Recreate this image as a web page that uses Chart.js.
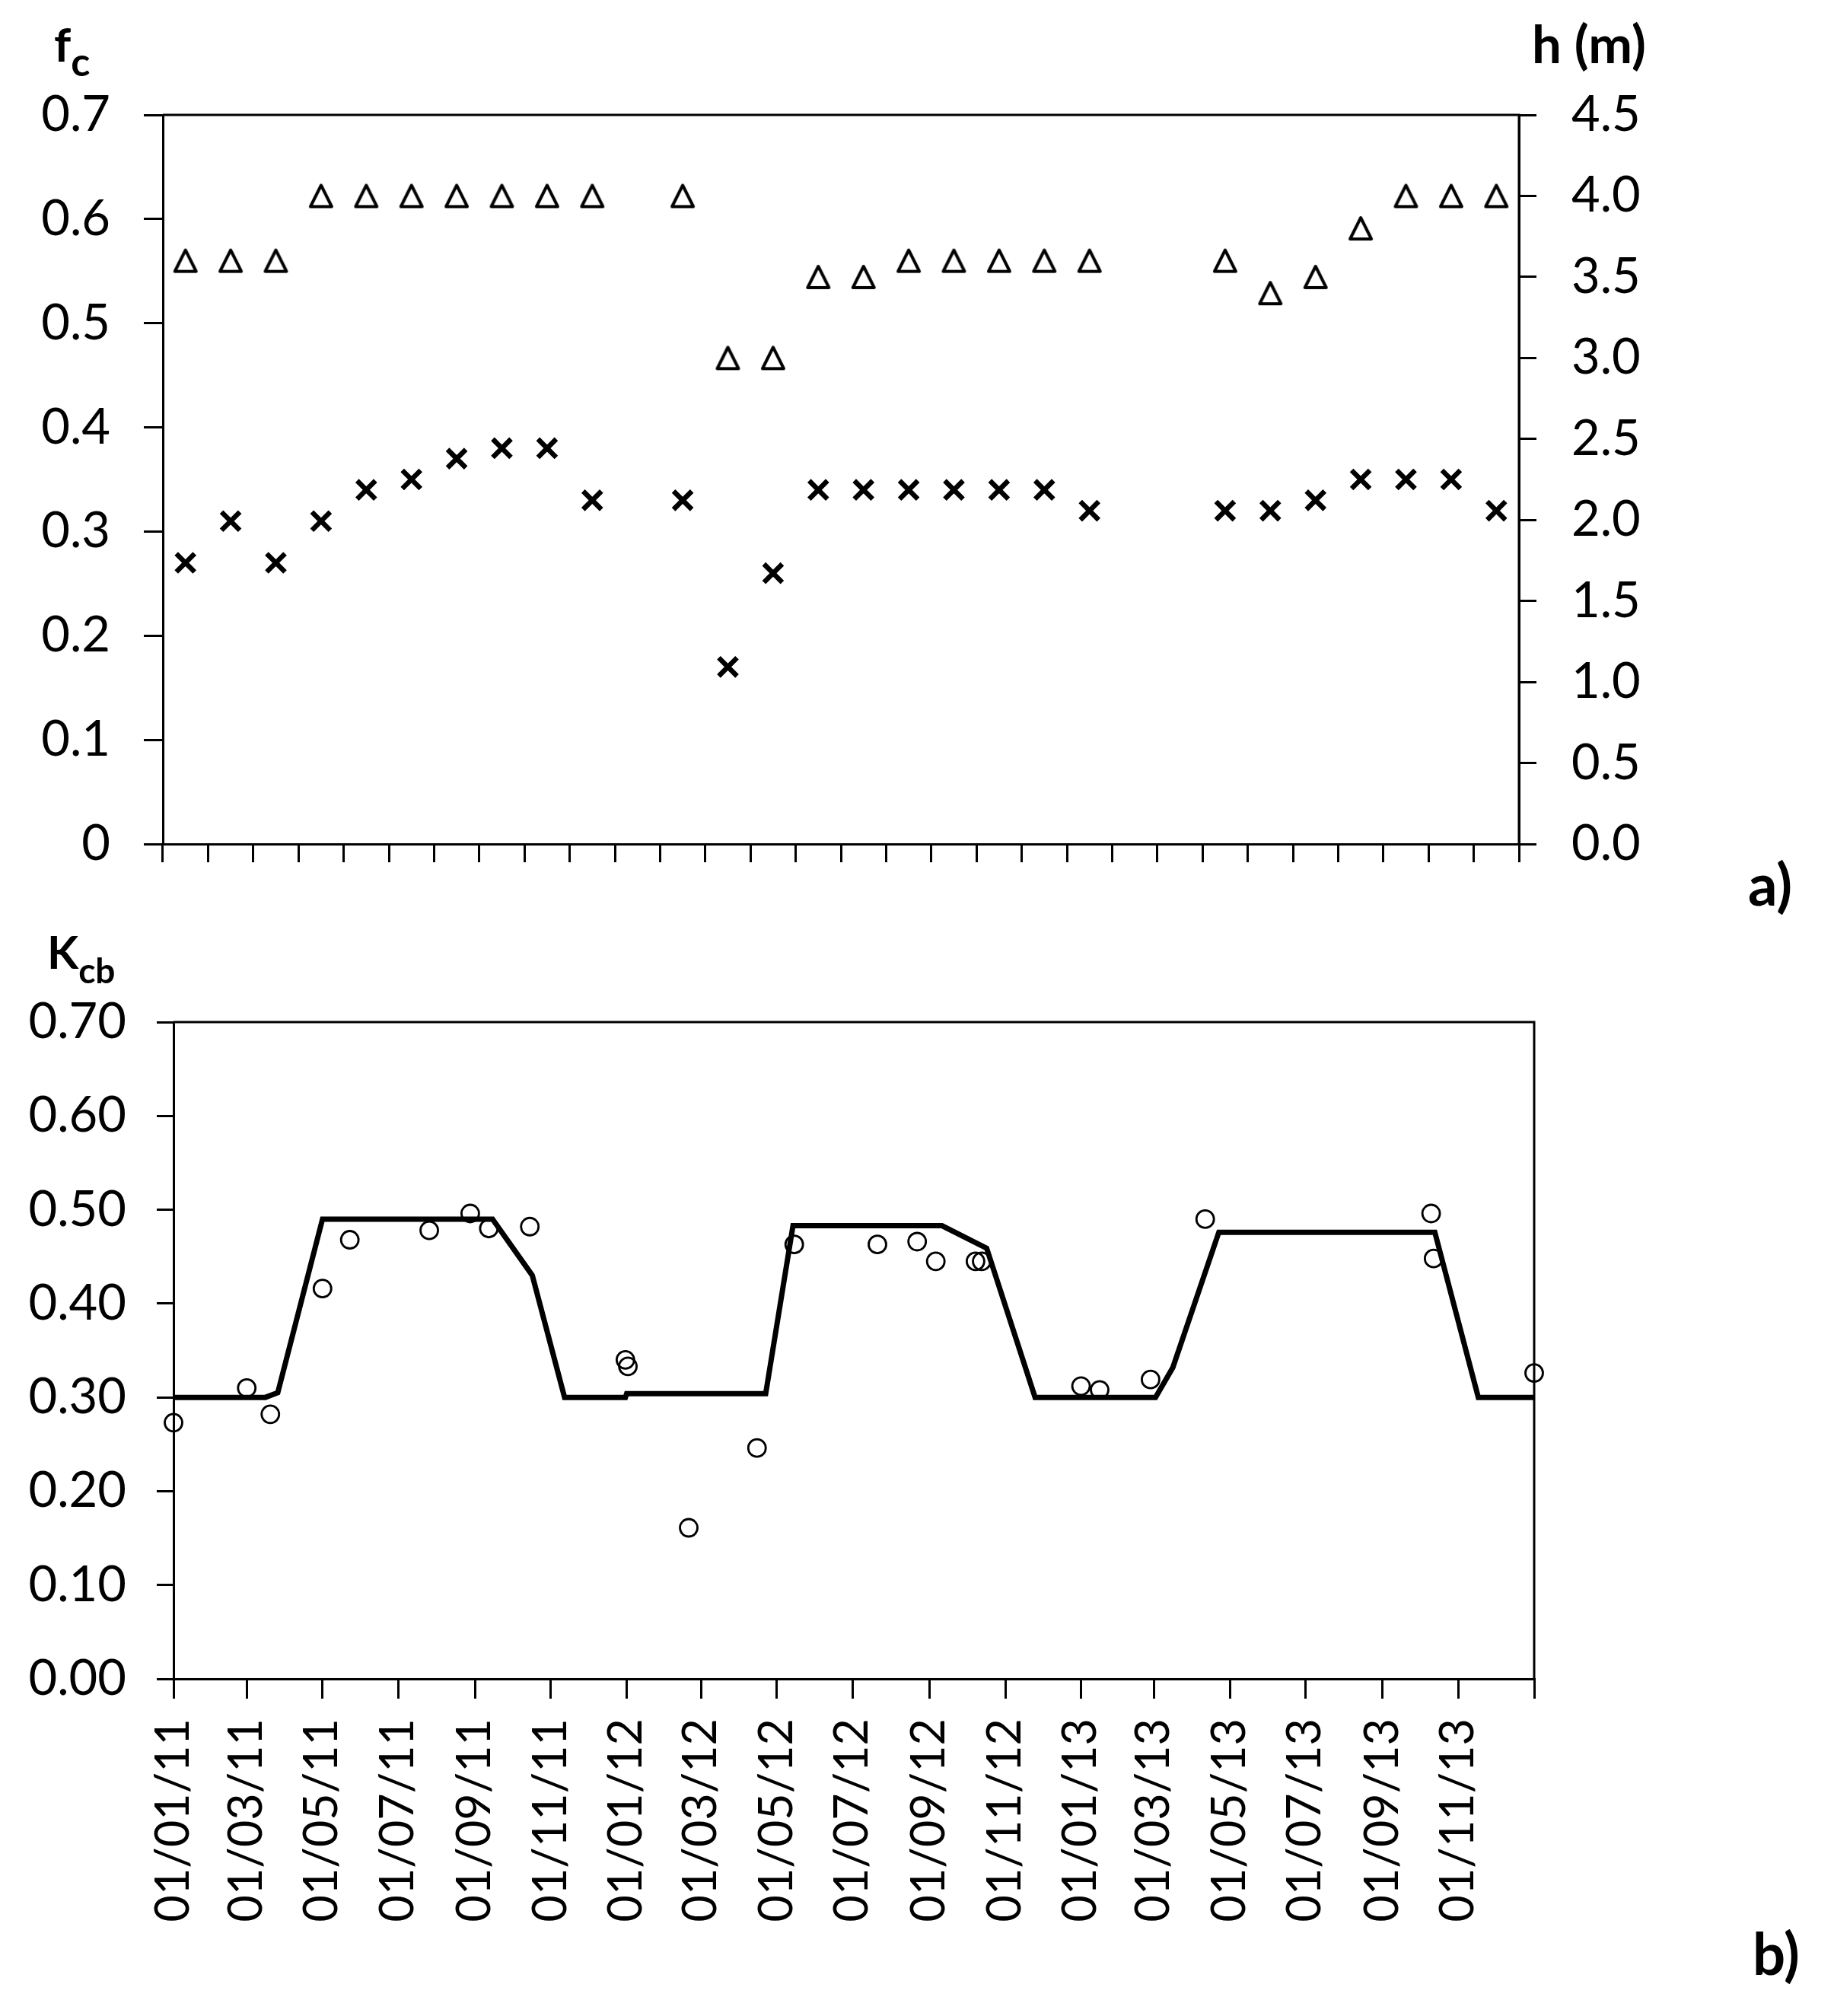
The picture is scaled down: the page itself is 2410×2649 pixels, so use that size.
<!DOCTYPE html>
<html>
<head>
<meta charset="utf-8">
<script src="https://cdn.jsdelivr.net/npm/chart.js@4.4.1/dist/chart.umd.min.js"></script>
<style>
  html, body { margin: 0; padding: 0; background: #ffffff; }
  body { width: 2410px; height: 2649px; position: relative; overflow: hidden; font-family: Lato, "Open Sans", sans-serif; }
  canvas { position: absolute; left: 0; }
  .t { position: absolute; font-weight: bold; color: #000; line-height: 1; white-space: nowrap; font-family: Lato, "Open Sans", sans-serif; }
  .s { font-weight: bold; }
</style>
</head>
<body>
<canvas id="chartA" width="2410" height="1200" style="top:0px"></canvas>
<canvas id="chartB" width="2410" height="1449" style="top:1200px"></canvas>

<div class="t" style="left:71px; top:26px; font-size:62px;">f<span class="s" style="font-size:52px; vertical-align:-19px;">c</span></div>
<div class="t" style="left:2013px; top:22px; font-size:69px;">h (m)</div>
<div class="t" style="left:2297px; top:1123px; font-size:76px;">a)</div>
<div class="t" style="left:62px; top:1220px; font-size:60px;">K<span class="s" style="font-size:46px; vertical-align:-19px;">cb</span></div>
<div class="t" style="left:2303px; top:2528px; font-size:76px;">b)</div>

<script>
// ---------- DATA ----------
// Panel a): 30 measurement periods (category axis, no labels)
const periods = ['1','2','3','4','5','6','7','8','9','10','11','12','13','14','15','16','17','18','19','20','21','22','23','24','25','26','27','28','29','30'];
// fraction of ground cover fc (crosses, left axis)
const fcValues = [0.27, 0.31, 0.27, 0.31, 0.34, 0.35, 0.37, 0.38, 0.38, 0.33, null, 0.33, 0.17, 0.26, 0.34, 0.34, 0.34, 0.34, 0.34, 0.34, 0.32, null, null, 0.32, 0.32, 0.33, 0.35, 0.35, 0.35, 0.32];
// tree height h in m (triangles, right axis)
const hValues = [3.6, 3.6, 3.6, 4.0, 4.0, 4.0, 4.0, 4.0, 4.0, 4.0, null, 4.0, 3.0, 3.0, 3.5, 3.5, 3.6, 3.6, 3.6, 3.6, 3.6, null, null, 3.6, 3.4, 3.5, 3.8, 4.0, 4.0, 4.0];

// Panel b): modelled Kcb (line)
const kcbLineDates = ['2011-01-01', '2011-03-16', '2011-03-26', '2011-05-01', '2011-09-15', '2011-10-17', '2011-11-12', '2011-12-31',
                      '2012-01-01', '2012-04-22', '2012-05-14', '2012-09-11', '2012-10-17', '2012-11-25',
                      '2013-03-02', '2013-03-16', '2013-04-22', '2013-10-13', '2013-11-17', '2014-01-01'];
const kcbLineValues = [0.30, 0.30, 0.305, 0.49, 0.49, 0.43, 0.30, 0.30,
                       0.304, 0.304, 0.483, 0.483, 0.459, 0.30,
                       0.30, 0.332, 0.476, 0.476, 0.30, 0.30];
// observed Kcb (circles)
const kcbObsDates = ['2011-01-01', '2011-03-01', '2011-03-20', '2011-05-01', '2011-05-23', '2011-07-26', '2011-08-28', '2011-09-12', '2011-10-15',
                     '2011-12-31', '2012-01-02', '2012-02-20', '2012-04-15', '2012-05-15', '2012-07-21', '2012-08-22', '2012-09-06', '2012-10-08', '2012-10-13',
                     '2013-01-01', '2013-01-16', '2013-02-26', '2013-04-11', '2013-10-10', '2013-10-12', '2014-01-01'];
const kcbObsValues = [0.273, 0.310, 0.282, 0.416, 0.468, 0.478, 0.496, 0.480, 0.482,
                      0.340, 0.333, 0.161, 0.246, 0.463, 0.463, 0.466, 0.445, 0.445, 0.445,
                      0.312, 0.308, 0.319, 0.490, 0.496, 0.448, 0.326];
// date axis
const dateTickLabels = ['01/01/11', '01/03/11', '01/05/11', '01/07/11', '01/09/11', '01/11/11',
                        '01/01/12', '01/03/12', '01/05/12', '01/07/12', '01/09/12', '01/11/12',
                        '01/01/13', '01/03/13', '01/05/13', '01/07/13', '01/09/13', '01/11/13'];
const dateAxisStart = '2011-01-01';
const dateAxisEnd = '2014-01-01';

// ---------- HELPERS ----------
const DAY = 86400000;
const t0 = Date.parse(dateAxisStart + 'T00:00:00Z');
const isoToDay = s => (Date.parse(s + 'T00:00:00Z') - t0) / DAY;
const labelToDay = s => { const p = s.split('/'); return isoToDay('20' + p[2] + '-' + p[1] + '-' + p[0]); };
const tickDays = dateTickLabels.map(labelToDay).concat([isoToDay(dateAxisEnd)]);

Chart.defaults.color = '#000';
Chart.defaults.font.family = 'Lato, "Open Sans", sans-serif';

function makeTriangle() {
  const c = document.createElement('canvas');
  c.width = 36; c.height = 36;
  const g = c.getContext('2d');
  g.lineWidth = 4; g.lineJoin = 'round'; g.strokeStyle = '#000';
  g.beginPath(); g.moveTo(18, 4); g.lineTo(32, 32); g.lineTo(4, 32); g.closePath(); g.stroke();
  return c;
}

const frame = {
  id: 'frame',
  afterDraw(chart) {
    const a = chart.chartArea, ctx = chart.ctx;
    ctx.save();
    ctx.strokeStyle = '#000'; ctx.lineWidth = 3;
    ctx.beginPath();
    ctx.moveTo(a.left, a.top); ctx.lineTo(a.right, a.top); ctx.lineTo(a.right, a.bottom);
    ctx.stroke();
    ctx.restore();
  }
};

const tickFont = { family: 'Lato, "Open Sans", sans-serif', size: 65 };
const axisLine = { display: true, color: '#000', width: 3 };

// ---------- PANEL A ----------
new Chart(document.getElementById('chartA'), {
  type: 'line',
  data: {
    labels: periods,
    datasets: [
      { label: 'h (m)', data: hValues, yAxisID: 'y1', showLine: false,
        pointStyle: makeTriangle(), pointRadius: 16, borderColor: '#000', backgroundColor: '#000' },
      { label: 'fc', data: fcValues, yAxisID: 'y', showLine: false,
        pointStyle: 'crossRot', pointRadius: 17, borderWidth: 6.5, borderColor: '#000', backgroundColor: '#000' }
    ]
  },
  options: {
    responsive: false, animation: false, devicePixelRatio: 1,
    layout: { padding: { top: 151, left: 0, right: 214, bottom: 0 } },
    plugins: { legend: { display: false }, tooltip: { enabled: false } },
    scales: {
      x: { type: 'category', offset: true,
           grid: { offset: true, drawOnChartArea: false, drawTicks: true, tickLength: 24, color: '#000', lineWidth: 3 },
           border: axisLine, ticks: { display: false },
           afterFit: s => { s.height = 91; } },
      y: { position: 'left', min: 0, max: 0.7,
           ticks: { stepSize: 0.1, padding: 44, font: tickFont, color: '#000', callback: v => v === 0 ? '0' : v.toFixed(1) },
           grid: { drawOnChartArea: false, drawTicks: true, tickLength: 25, color: '#000', lineWidth: 3 },
           border: axisLine, afterFit: s => { s.width = 214; } },
      y1: { position: 'right', min: 0, max: 4.5,
           ticks: { stepSize: 0.5, padding: 46, font: tickFont, color: '#000', callback: v => v.toFixed(1) },
           grid: { drawOnChartArea: false, drawTicks: true, tickLength: 23, color: '#000', lineWidth: 3 },
           border: axisLine, afterFit: s => { s.width = 200; } }
    }
  },
  plugins: [frame]
});

// ---------- PANEL B ----------
new Chart(document.getElementById('chartB'), {
  type: 'scatter',
  data: {
    datasets: [
      { label: 'Kcb model', data: kcbLineDates.map((d, i) => ({ x: isoToDay(d), y: kcbLineValues[i] })),
        showLine: true, borderColor: '#000', borderWidth: 7, pointRadius: 0, pointHoverRadius: 0, tension: 0, fill: false, order: 2 },
      { label: 'Kcb observed', data: kcbObsDates.map((d, i) => ({ x: isoToDay(d), y: kcbObsValues[i] })),
        pointStyle: 'circle', pointRadius: 11.5, borderWidth: 2.8, borderColor: '#000', backgroundColor: 'rgba(0,0,0,0)', clip: false, order: 1 }
    ]
  },
  options: {
    responsive: false, animation: false, devicePixelRatio: 1,
    layout: { padding: { top: 143, left: 0, right: 394, bottom: 0 } },
    plugins: { legend: { display: false }, tooltip: { enabled: false } },
    scales: {
      x: { type: 'linear', min: isoToDay(dateAxisStart), max: isoToDay(dateAxisEnd),
           afterBuildTicks: s => { s.ticks = tickDays.map(v => ({ value: v })); },
           ticks: { autoSkip: false, maxRotation: 90, minRotation: 90, padding: 26, font: { family: 'Lato, "Open Sans", sans-serif', size: 61 }, color: '#000',
                    callback: (v, i) => (i < dateTickLabels.length ? dateTickLabels[i] : '') },
           grid: { drawOnChartArea: false, drawTicks: true, tickLength: 26, color: '#000', lineWidth: 3 },
           border: axisLine, afterFit: s => { s.height = 443; } },
      y: { position: 'left', min: 0, max: 0.7,
           ticks: { stepSize: 0.1, padding: 40, font: tickFont, color: '#000', callback: v => v.toFixed(2) },
           grid: { drawOnChartArea: false, drawTicks: true, tickLength: 22, color: '#000', lineWidth: 3 },
           border: axisLine, afterFit: s => { s.width = 228; } }
    }
  },
  plugins: [frame]
});
</script>
</body>
</html>
